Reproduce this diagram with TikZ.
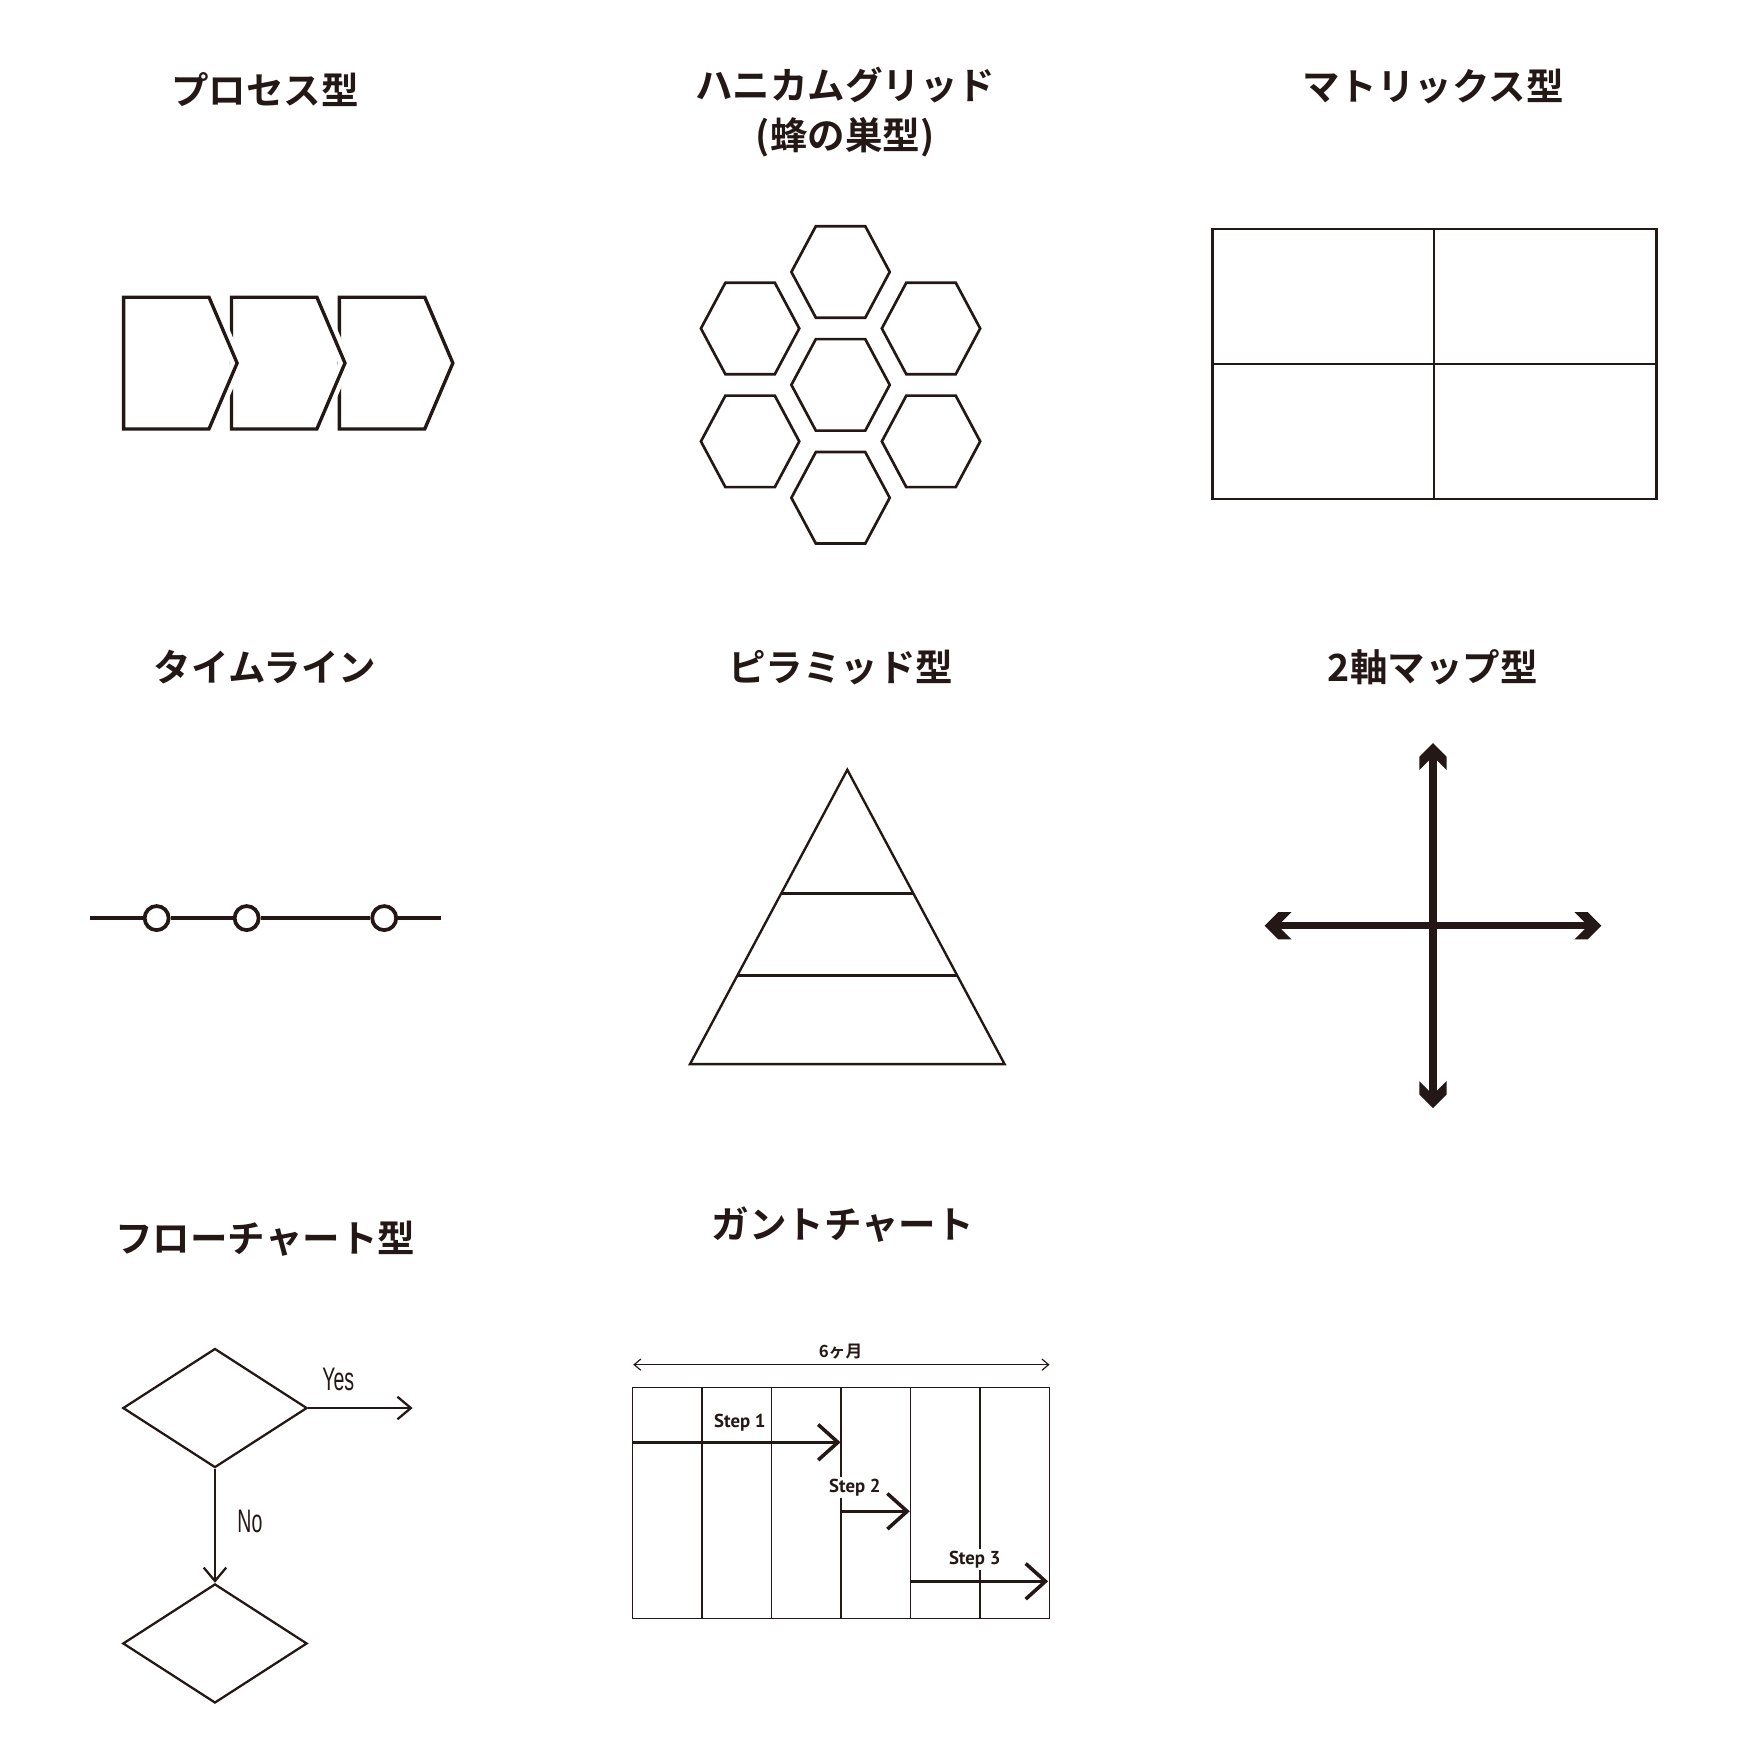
\documentclass[tikz,border=0pt]{standalone}
\usepackage{fontspec}
\usepackage{graphicx}
\usetikzlibrary{arrows.meta,shapes.geometric,calc}
\newfontfamily\jpfont[BoldFont={Noto Sans CJK JP Bold}]{Noto Sans CJK JP}
\newfontfamily\stepfont{PT Sans}
\newfontfamily\ynfont{Liberation Sans}
\definecolor{ink}{HTML}{231815}

\begin{document}
\begin{tikzpicture}[x=0.02cm, y=-0.02cm, line join=miter]
  \tikzset{ttl/.style={font=\jpfont\bfseries\fontsize{19}{25.5}\selectfont, text=ink, align=center},
  pr/.style={draw=ink, line width=1.7pt, preaction={draw=white, line width=6.3pt}},
  hx/.style={draw=ink, line width=1.35pt},
  thin/.style={draw=ink, line width=1.2pt},
  dot/.style={circle, draw=ink, fill=white, line width=1.9pt, minimum size=0.428cm, inner sep=0pt},
  ax/.style={draw=ink, line width=3.7pt, shorten <=6pt, shorten >=6pt},
  axhead/.pic={\fill[ink] (0,0) -- (-12.2,-12.2) -- (-24,-12.2) -- (-11.8,0) -- (-24,12.2) -- (-12.2,12.2) -- cycle;},
  dm/.style={diamond, draw=ink, line width=1.15pt, minimum width=3.28cm, minimum height=2.12cm, inner sep=0pt},
  f/.style={draw=ink, line width=1.15pt, -{Straight Barb[length=6.8pt, width=11.4pt]}},
  yn/.style={font=\ynfont\fontsize{16.5}{18}\selectfont, text=ink},
  gg/.style={draw=ink, line width=0.7pt},
  st/.style={draw=ink, line width=1.8pt, -{Straight Barb[length=10pt, width=18pt]}},
  sl/.style={font=\stepfont\bfseries\fontsize{9.5}{11}\selectfont, text=ink, fill=white, inner sep=1pt}}

  \useasboundingbox (0,0) rectangle (1568,1568);

  % titles
  \node[ttl] (tproc) at (236,80) {プロセス型};
  \node[ttl] (thoney) at (752,100) {ハニカムグリッド\\(蜂の巣型)};
  \node[ttl] (tmat) at (1275,77) {マトリックス型};
  \node[ttl] (ttime) at (236,594) {タイムライン};
  \node[ttl] (tpyr) at (748,594) {ピラミッド型};
  \node[ttl] (tmap) at (1275,594) {2軸マップ型};
  \node[ttl] (tflow) at (236,1102) {フローチャート型};
  \node[ttl] (tgantt) at (750,1090) {ガントチャート};

  % process
  \foreach \px in {302,206,110}
    \draw[pr] (\px,264.5) -- ++(76,0) -- ++(25,58.6) -- ++(-25,58.6) -- ++(-76,0) -- cycle;

  % honeycomb
  \foreach \hx/\hy in {748/242, 667.5/292.3, 828.5/292.3, 748/342.5, 667.5/392.8, 828.5/392.8, 748/443}
    \draw[hx] (\hx-43.75,\hy) -- (\hx-22,\hy-40.7) -- (\hx+22,\hy-40.7) -- (\hx+43.75,\hy)
      -- (\hx+22,\hy+40.7) -- (\hx-22,\hy+40.7) -- cycle;

  % matrix
  \draw[thin] (1079,204) rectangle (1474,444);
  \draw[thin] (1276,204) -- (1276,444) (1079,324) -- (1474,324);

  % timeline
  \coordinate (ta) at (80,817);
  \coordinate (tb) at (392.4,817);
  \node[dot] (t1) at (139.4,817) {};
  \node[dot] (t2) at (219.5,817) {};
  \node[dot] (t3) at (341.9,817) {};
  \draw[ink, line width=1.9pt] (ta) -- (t1) -- (t2) -- (t3) -- (tb);

  % pyramid
  \coordinate (pa) at (754,685);
  \coordinate (pl) at (614,947);
  \coordinate (pr) at (894,947);
  \draw[thin] (pa) -- (pr) -- (pl) -- cycle;
  \draw[thin] ($(pa)!0.42!(pl)$) -- ($(pa)!0.42!(pr)$);
  \draw[thin] ($(pa)!0.6985!(pl)$) -- ($(pa)!0.6985!(pr)$);

  % 2 axes
  \coordinate (mu) at (1275.2,661.3);
  \coordinate (md) at (1275.2,986);
  \coordinate (ml) at (1125.4,823.8);
  \coordinate (mr) at (1425,823.8);
  \draw[ax] (mu) -- (md);
  \draw[ax] (ml) -- (mr);
  \pic[rotate=90] at (mu) {axhead};
  \pic[rotate=-90] at (md) {axhead};
  \pic[rotate=180] at (ml) {axhead};
  \pic at (mr) {axhead};

  % flowchart
  \node[dm] (d1) at (191.3,1253) {};
  \node[dm] (d2) at (191.3,1462.5) {};
  \coordinate (fy) at (367.2,1253);
  \draw[f] (d1.east) -- (fy);
  \draw[f] (d1.south) -- (d2.north);
  \node[yn] (yes) at (301,1227.8) {\scalebox{0.6}[1]{Yes}};
  \node[yn] (no) at (222.4,1353.8) {\scalebox{0.6}[1]{No}};

  % gantt
  \coordinate (g0) at (563.5,1214.4);
  \coordinate (g6) at (934,1214.4);
  \draw[ink, line width=0.6pt, {Straight Barb[length=3.4pt, width=5.7pt]}-{Straight Barb[length=3.4pt, width=5.7pt]}] (g0) -- (g6);
  \node[font=\jpfont\bfseries\fontsize{8.5}{10}\selectfont, text=ink] (mon) at (748,1202.5) {6ヶ月};
  \draw[gg] (563,1234.6) rectangle (934,1440.4);
  \foreach \k in {1,...,5}
    \draw[gg] (563+61.83*\k,1234.6) -- ++(0,205.8);
  \coordinate (s1a) at (563,1283.5);
  \coordinate (s1b) at (748,1283.5);
  \coordinate (s2a) at (748,1344.9);
  \coordinate (s2b) at (809.6,1344.9);
  \coordinate (s3a) at (810,1407.2);
  \coordinate (s3b) at (932.7,1407.2);
  \draw[st] (s1a) -- (s1b);
  \draw[st] (s2a) -- (s2b);
  \draw[st] (s3a) -- (s3b);
  \node[sl] (step1) at (658.4,1265.7) {Step 1};
  \node[sl] (step2) at (760.7,1323.5) {Step 2};
  \node[sl] (step3) at (867.4,1387.9) {Step 3};
\end{tikzpicture}
\end{document}
